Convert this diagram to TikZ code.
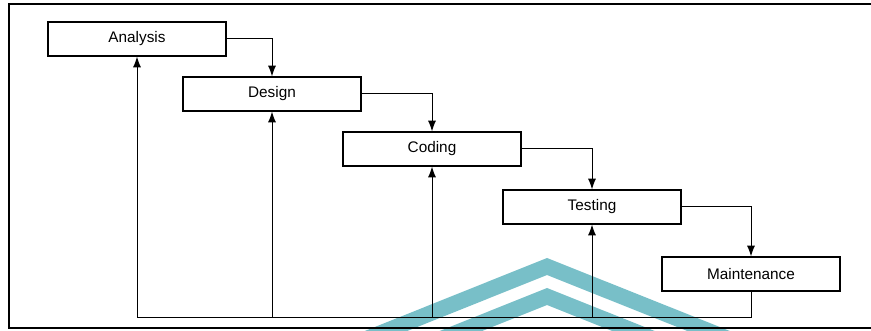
\documentclass[tikz,border=0pt]{standalone}
\usepackage{fontspec}
\setsansfont{Liberation Sans}
\usetikzlibrary{arrows.meta,positioning}
\definecolor{wmark}{RGB}{120,191,200}
\tikzset{
  phase/.style = {draw, rectangle, line width=0.9pt, inner sep=0pt,
                  minimum width=133.5pt, minimum height=25.5pt,
                  font=\sffamily\fontsize{11.5}{13}\selectfont},
  flow/.style  = {->, line width=0.75pt},
  back/.style  = {line width=0.75pt},
  frame/.style = {line width=1.6pt}
}

\begin{document}
\begin{tikzpicture}[x=0.75pt, y=-0.75pt, >={Latex[length=8pt,width=6pt]}]
\useasboundingbox (0,0) rectangle (871,331);

% chevrons in the background
\begin{scope}
\clip (0,0) rectangle (871,331);
\fill[wmark] (300,357) -- (547,258) -- (800,359) -- (800,376) -- (547,275) -- (300,374) -- cycle;
\fill[wmark] (300,387) -- (547,288) -- (800,389) -- (800,406) -- (547,305) -- (300,404) -- cycle;
\end{scope}

% outer frame, open on the right
\draw[frame] (871,4) -- (9,4) -- (9,328) -- (871,328);

% the phases, each one step down and to the right
\node[phase] (analysis) at (137,39) {Analysis};
\node[phase, node distance=41.25pt, below of=analysis, xshift=101.25pt] (design) {Design};
\node[phase, node distance=41.25pt, below of=design, xshift=120pt] (coding) {Coding};
\node[phase, node distance=43.5pt, below of=coding, xshift=120pt] (testing) {Testing};
\node[phase, node distance=50.25pt, below of=testing, xshift=119.25pt] (maint) {Maintenance};

\coordinate[node distance=33pt, below of=maint] (ret);

% forward flow
\foreach \from/\to in {analysis/design, design/coding, coding/testing, testing/maint}
  \draw[flow] (\from.east) -| (\to.north);

% feedback line along the bottom
\draw[back] (maint.south) -- (ret) -- (analysis |- ret);
\foreach \phs in {analysis, design, coding, testing}
  \draw[flow] (\phs |- ret) -- (\phs.south);
\end{tikzpicture}
\end{document}
